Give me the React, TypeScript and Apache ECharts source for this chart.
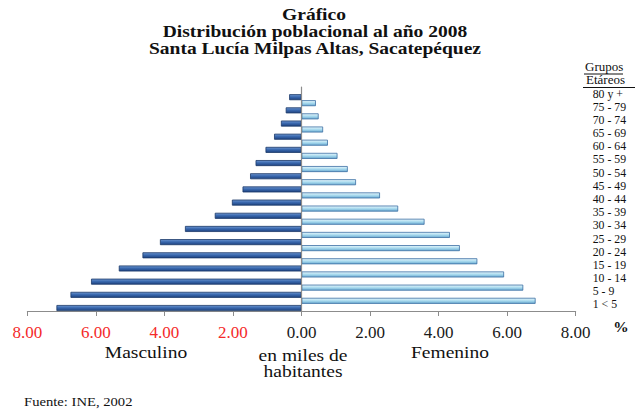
import React, { useEffect, useRef } from "react";
import * as echarts from "echarts";

// Age groups listed bottom to top
const ageGroups = [
  "1 < 5", "5 - 9", "10 - 14", "15 - 19", "20 - 24", "25 - 29", "30 - 34",
  "35 - 39", "40 - 44", "45 - 49", "50 - 54", "55 - 59", "60 - 64", "65 - 69",
  "70 - 74", "75 - 79", "80 y +",
];
const masculino = [7.15, 6.74, 6.14, 5.33, 4.64, 4.13, 3.4, 2.53, 2.03, 1.72, 1.5, 1.34, 1.05, 0.8, 0.6, 0.46, 0.36];
const femenino: (number | null)[] = [6.83, 6.47, 5.91, 5.13, 4.62, 4.33, 3.59, 2.82, 2.29, 1.59, 1.35, 1.05, 0.77, 0.63, 0.5, 0.42, null];

const axisMin = -8;
const axisMax = 8;
const axisStep = 2;

const titleLines = ["Gráfico", "Distribución poblacional al año 2008", "Santa Lucía Milpas Altas, Sacatepéquez"];

const SERIF = "Times New Roman, Liberation Serif, serif";

export default function App() {
  const ref = useRef<HTMLDivElement>(null);
  useEffect(() => {
    if (!ref.current) return;
    const chart = echarts.init(ref.current, undefined, { renderer: "svg" });
    const stretch = 1.22;
    const txt = (text: string, x: number, y: number, size: number, opts: any = {}) => ({
      type: "text",
      x,
      y,
      scaleX: opts.scaleX ?? stretch,
      style: {
        text,
        fontFamily: SERIF,
        fontSize: size,
        fontWeight: opts.bold ? "bold" : "normal",
        fill: opts.fill ?? "#111",
        align: opts.align ?? "center",
        verticalAlign: "middle",
      },
    });
    chart.setOption({
      animation: false,
      backgroundColor: "#ffffff",
      grid: { left: 27.3, right: 59.3, top: 87, bottom: 98, containLabel: false },
      xAxis: {
        type: "value",
        min: axisMin,
        max: axisMax,
        interval: axisStep,
        splitLine: { show: false },
        axisLine: { show: true, lineStyle: { color: "#8c8c8c", width: 1 } },
        axisTick: { show: true, length: 5, lineStyle: { color: "#8c8c8c" } },
        axisLabel: {
          margin: 13,
          fontSize: 17,
          fontFamily: SERIF,
          formatter: (v: number) => Math.abs(v).toFixed(2),
          color: (v: any) => (Number(v) < 0 ? "#F42A2A" : "#1a1a1a"),
        },
      },
      yAxis: [
        {
          type: "category",
          data: ageGroups,
          axisLine: { show: true, onZero: true, lineStyle: { color: "#8c8c8c", width: 1.2 } },
          axisTick: { show: false },
          axisLabel: { show: false },
          z: 5,
        },
        {
          type: "category",
          data: ageGroups,
          position: "right",
          axisLine: { show: false },
          axisTick: { show: false },
          axisLabel: {
            show: true,
            interval: 0,
            align: "left",
            margin: 17,
            fontSize: 11.8,
            lineHeight: 12,
            fontFamily: SERIF,
            color: "#111",
          },
        },
      ],
      series: [
        {
          name: "Femenino",
          type: "bar",
          data: femenino.map((v) => (v == null ? "-" : v)),
          barWidth: 6,
          barGap: "20%",
          itemStyle: {
            color: new echarts.graphic.LinearGradient(0, 0, 0, 1, [
              { offset: 0, color: "#E6F6FC" },
              { offset: 0.5, color: "#A8DAEE" },
              { offset: 1, color: "#6BA9D0" },
            ]),
            borderColor: "#3B6FA3",
            borderWidth: 0.8,
          },
        },
        {
          name: "Masculino",
          type: "bar",
          data: masculino.map((v) => -v),
          barWidth: 6,
          barGap: "20%",
          itemStyle: {
            color: new echarts.graphic.LinearGradient(0, 0, 0, 1, [
              { offset: 0, color: "#6E96D0" },
              { offset: 0.45, color: "#3A69AF" },
              { offset: 1, color: "#1F4380" },
            ]),
            borderColor: "#1B3868",
            borderWidth: 0.8,
          },
        },
      ],
      graphic: [
        txt(titleLines[0], 314, 15, 16, { bold: true }),
        txt(titleLines[1], 315, 32, 16, { bold: true }),
        txt(titleLines[2], 315, 49, 16, { bold: true }),
        txt("Grupos", 585, 66, 13, { align: "left", scaleX: 1 }),
        txt("Etáreos", 586, 79.5, 13, { align: "left", scaleX: 1 }),
        { type: "line", shape: { x1: 584, y1: 74, x2: 623, y2: 74 }, style: { stroke: "#111", lineWidth: 1 } },
        { type: "line", shape: { x1: 583, y1: 87.5, x2: 635, y2: 87.5 }, style: { stroke: "#111", lineWidth: 1 } },
        txt("%", 621, 327, 14, { bold: true, scaleX: 1.1 }),
        txt("Masculino", 146, 353, 16),
        txt("en miles de", 303, 356, 16),
        txt("habitantes", 303, 372, 16),
        txt("Femenino", 450, 353, 16),
        txt("Fuente: INE, 2002", 24, 402, 12, { align: "left" }),
      ],
    });
    return () => chart.dispose();
  }, []);
  return (
    <div
      ref={ref}
      style={{ position: "fixed", left: 0, top: 0, width: 635, height: 409, background: "#fff" }}
    />
  );
}
